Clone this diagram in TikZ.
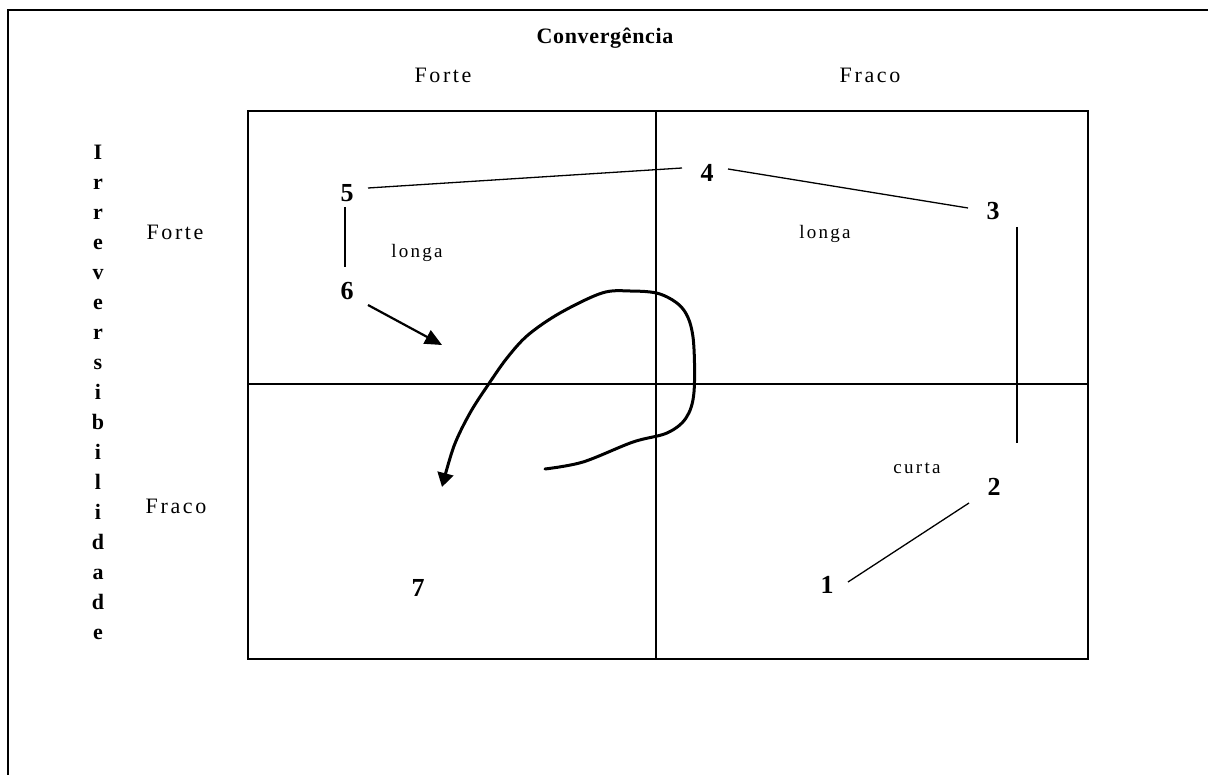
\documentclass[tikz,border=0pt]{standalone}
\usepackage{fontspec}
\setmainfont{Liberation Serif}
\newfontfamily\spc[LetterSpace=12]{Liberation Serif}
\newfontfamily\spcb[LetterSpace=3]{Liberation Serif}
\usetikzlibrary{arrows.meta}
\begin{document}
\begin{tikzpicture}[x=1pt,y=-1pt,
  lbl/.style={inner sep=0pt, anchor=base, font=\spc\fontsize{22}{26}\selectfont},
  sml/.style={inner sep=0pt, anchor=base, font=\spc\fontsize{19}{23}\selectfont},
  ttl/.style={inner sep=0pt, anchor=base, font=\spcb\bfseries\fontsize{22}{26}\selectfont},
  num/.style={inner sep=0pt, anchor=base, font=\bfseries\fontsize{26}{30}\selectfont},
  vlet/.style={inner sep=0pt, anchor=base, font=\bfseries\fontsize{22}{26}\selectfont},
  conn/.style={line width=1.3pt},
  grid/.style={line width=1.3pt}]
\useasboundingbox (0,0) rectangle (1208,775);
% outer frame (top and left sides only visible)
\draw[line width=2.5pt] (1208,10) -- (8,10) -- (8,775);
% quadrant box
\draw[line width=1.7pt] (248,111) rectangle (1088,659);
\draw[grid] (656,111) -- (656,659);
\draw[grid] (248,384) -- (1088,384);
% titles
\node[ttl] (conv) at (605,44) {Convergência};
\node[lbl] (cforte) at (443,83) {Forte};
\node[lbl] (cfraco) at (870,83) {Fraco};
\node[lbl] (rforte) at (175,240) {Forte};
\node[lbl] (rfraco) at (176,513) {Fraco};
% vertical word
\foreach \ch [count=\i from 0] in {I,r,r,e,v,e,r,s,i,b,i,l,i,d,a,d,e}
  \node[vlet] (v\i) at (98,160+29.94*\i) {\ch};
% region labels
\node[sml] (longa1) at (417,258) {longa};
\node[sml] (longa2) at (825,239) {longa};
\node[sml] (curta) at (917,474) {curta};
% numbered points
\node[num] (n1) at (827,593) {1};
\node[num] (n2) at (994,495) {2};
\node[num] (n3) at (993,220) {3};
\node[num] (n4) at (707,182) {4};
\node[num] (n5) at (347,202) {5};
\node[num] (n6) at (347,300) {6};
\node[num] (n7) at (418,596) {7};
% connectors
\draw[conn] ([shift={(21,-14)}]n5.base) -- ([shift={(-25,-14)}]n4.base);
\draw[conn] ([shift={(21,-13)}]n4.base) -- ([shift={(-25,-12)}]n3.base);
\draw[conn] ([shift={(24,7)}]n3.base) -- ([shift={(23,-52)}]n2.base);
\draw[conn] ([shift={(-25,8)}]n2.base) -- ([shift={(21,-11)}]n1.base);
\draw[conn] ([shift={(-2,5)}]n5.base) -- ([shift={(-2,-33)}]n6.base);
\coordinate (tip6) at (442,345);
\draw[line width=2.2pt, -{Triangle[length=17pt,width=15pt]}] ([shift={(21,5)}]n6.base) -- (tip6);
% hand-drawn loop
\coordinate (loopstart) at (545,469);
\coordinate (looptip) at (442,487);
\draw[line width=3pt, line cap=round, line join=round, -{Triangle[length=14pt,width=16pt]}]
  plot[smooth, tension=0.55] coordinates {(545,469) (583,462) (633,442) (667,433) (686,418) (694,392) (693,337) (683,309) (660,294) (630,291) (602,293) (560,313) (528,335) (507,358) (488,385) (470,413) (454,446) (442,487)};
\end{tikzpicture}
\end{document}
